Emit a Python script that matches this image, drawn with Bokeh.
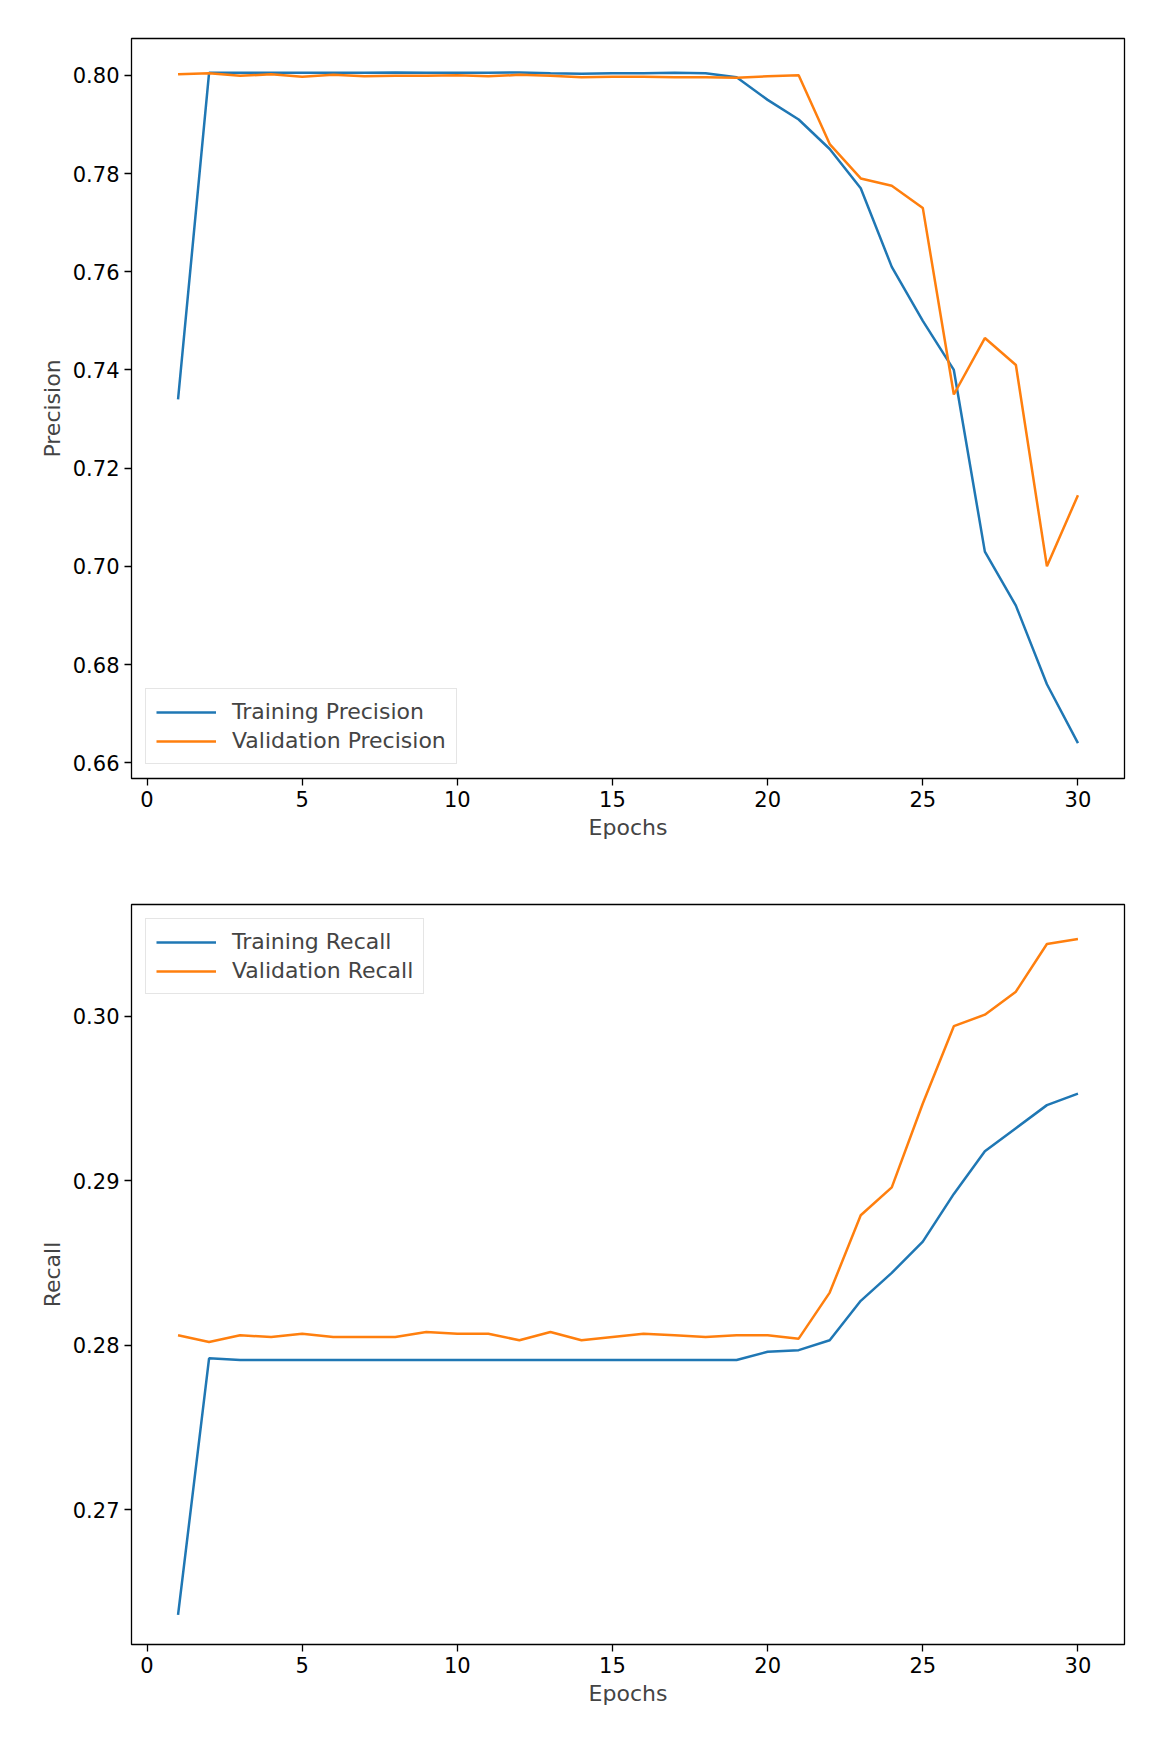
from bokeh.plotting import figure
from bokeh.layouts import column
from bokeh.models import Range1d, FixedTicker, Legend, LegendItem
from bokeh.embed import file_html
from bokeh.resources import INLINE

epochs = list(range(1, 31))
train_precision = [0.734, 0.8005, 0.8005, 0.8005, 0.8005, 0.8005, 0.8005, 0.8006, 0.8005, 0.8005,
                   0.8005, 0.8006, 0.8004, 0.8003, 0.8004, 0.8004, 0.8005, 0.8004, 0.7996, 0.795,
                   0.791, 0.785, 0.777, 0.761, 0.750, 0.740, 0.703, 0.692, 0.676, 0.664]
val_precision = [0.8002, 0.8004, 0.7999, 0.8002, 0.7997, 0.8001, 0.7998, 0.7999, 0.7999, 0.8000,
                 0.7998, 0.8001, 0.7999, 0.7996, 0.7997, 0.7997, 0.7996, 0.7996, 0.7995, 0.7998,
                 0.8000, 0.786, 0.779, 0.7775, 0.773, 0.735, 0.7465, 0.741, 0.700, 0.7145]
train_recall = [0.2636, 0.2792, 0.2791, 0.2791, 0.2791, 0.2791, 0.2791, 0.2791, 0.2791, 0.2791,
                0.2791, 0.2791, 0.2791, 0.2791, 0.2791, 0.2791, 0.2791, 0.2791, 0.2791, 0.2796,
                0.2797, 0.2803, 0.2827, 0.2844, 0.2863, 0.2892, 0.2918, 0.2932, 0.2946, 0.2953]
val_recall = [0.2806, 0.2802, 0.2806, 0.2805, 0.2807, 0.2805, 0.2805, 0.2805, 0.2808, 0.2807,
              0.2807, 0.2803, 0.2808, 0.2803, 0.2805, 0.2807, 0.2806, 0.2805, 0.2806, 0.2806,
              0.2804, 0.2832, 0.2879, 0.2896, 0.2947, 0.2994, 0.3001, 0.3015, 0.3044, 0.3047]

FONT = "DejaVu Sans"
BLUE = "#1f77b4"
ORANGE = "#ff7f0e"


def make(yname, train, val, names, yr, yticks, fmt, loc):
    p = figure(width=1136, height=866, output_backend="svg", toolbar_location=None,
               x_range=Range1d(-0.5, 31.5), y_range=Range1d(*yr),
               min_border_left=131, min_border_right=12, min_border_top=38, min_border_bottom=88)
    p.grid.visible = False
    p.outline_line_color = "black"
    p.outline_line_width = 1.3
    r1 = p.line(epochs, train, color=BLUE, line_width=2.5)
    r2 = p.line(epochs, val, color=ORANGE, line_width=2.5)
    for ax in (p.xaxis[0], p.yaxis[0]):
        ax.axis_line_color = None
        ax.minor_tick_line_color = None
        ax.major_tick_out = 7
        ax.major_tick_in = 0
        ax.major_tick_line_width = 1.3
        ax.major_label_text_font = FONT
        ax.major_label_text_font_size = "21px"
        ax.major_label_text_color = "black"
        ax.axis_label_text_font = FONT
        ax.axis_label_text_font_size = "22px"
        ax.axis_label_text_font_style = "normal"
    p.xaxis.ticker = FixedTicker(ticks=[0, 5, 10, 15, 20, 25, 30])
    p.yaxis.ticker = FixedTicker(ticks=yticks)
    p.yaxis.major_label_overrides = {t: fmt.format(t) for t in yticks}
    p.xaxis.axis_label = "Epochs"
    p.yaxis.axis_label = yname
    leg = Legend(items=[LegendItem(label=names[0], renderers=[r1]),
                        LegendItem(label=names[1], renderers=[r2])],
                 location=loc, label_text_font=FONT, label_text_font_size="22px",
                 border_line_color="#cccccc", border_line_width=1.3,
                 glyph_width=60, spacing=4, padding=10, margin=14,
                 label_standoff=16)
    p.add_layout(leg)
    return p


p1 = make("Precision", train_precision, val_precision,
          ["Training Precision", "Validation Precision"], (0.6568, 0.8075),
          [0.66, 0.68, 0.70, 0.72, 0.74, 0.76, 0.78, 0.80], "{:.2f}", "bottom_left")
p2 = make("Recall", train_recall, val_recall,
          ["Training Recall", "Validation Recall"], (0.2618, 0.3068),
          [0.27, 0.28, 0.29, 0.30], "{:.2f}", "top_left")

layout = column(p1, p2, spacing=0)
open("out.html", "w").write(file_html(layout, INLINE))
